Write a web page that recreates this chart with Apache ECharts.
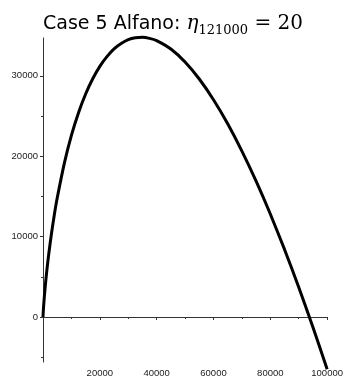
<!DOCTYPE html>
<html><head><meta charset="utf-8">
<script src="https://cdn.jsdelivr.net/npm/echarts@6/dist/echarts.min.js"></script>
<style>html,body{margin:0;padding:0;background:#fff}#c{width:346px;height:378px}</style>
</head><body><div id="c"></div>
<script>
const xValues = [0, 20, 50, 100, 250, 500, 1000, 1500, 2000, 3000, 4000, 5000, 7500, 10000, 12500, 15000, 17500, 20000, 22500, 25000, 27500, 30000, 32500, 35000, 37500, 40000, 45000, 50000, 55000, 60000, 65000, 70000, 75000, 80000, 85000, 90000, 95000, 100000];
const yValues = [0, 171, 381, 690, 1495, 2641, 4582, 6258, 7764, 10419, 12746, 14789, 19113, 22582, 25413, 27736, 29628, 31176, 32377, 33341, 34004, 34491, 34737, 34794, 34658, 34378, 33327, 31713, 29597, 27019, 24024, 20631, 16887, 12803, 8404, 3707, -1269, -6512];
const xTicks = [20000, 40000, 60000, 80000, 100000];
const yMajor = [0, 10000, 20000, 30000];
const yMinor = [-5000, 5000, 15000, 25000];

const chart = echarts.init(document.getElementById('c'), null, {renderer: 'canvas'});
const axisCol = '#333';
const lblFont = {color: '#222', fontFamily: 'Liberation Sans', fontSize: 9.5};
chart.setOption({
  animation: false,
  title: {
    text: '{a|Case 5 Alfano: }{e|η}{s|121000}{m| = 20}',
    left: 'center', top: 6,
    textStyle: {
      fontWeight: 'normal',
      rich: {
        a: {fontFamily: 'DejaVu Sans', fontWeight: 'normal', fontSize: 19, color: '#000', lineHeight: 26},
        e: {fontFamily: 'DejaVu Serif', fontWeight: 'normal', fontStyle: 'italic', fontSize: 20, color: '#000', lineHeight: 26},
        s: {fontFamily: 'DejaVu Serif', fontWeight: 'normal', fontSize: 13, color: '#000', lineHeight: 26, verticalAlign: 'bottom', padding: [6, 0, 0, 0]},
        m: {fontFamily: 'DejaVu Serif', fontWeight: 'normal', fontSize: 20, color: '#000', lineHeight: 26}
      }
    }
  },
  grid: {left: 43, width: 288, top: 38, height: 340, containLabel: false},
  xAxis: {
    type: 'value', min: 0, max: 100000, interval: 20000,
    axisLine: {onZero: true, lineStyle: {color: axisCol, width: 1}},
    axisTick: {show: true, length: 3, lineStyle: {color: axisCol}},
    minorTick: {show: true, splitNumber: 2, length: 2, lineStyle: {color: axisCol}},
    splitLine: {show: false},
    axisLabel: Object.assign({customValues: xTicks, margin: 6, formatter: v => String(v)}, lblFont)
  },
  yAxis: [{
    type: 'value', min: -5600, max: 34700,
    axisLine: {show: true, lineStyle: {color: axisCol, width: 1}},
    axisTick: {show: true, length: 3, customValues: yMajor, lineStyle: {color: axisCol}},
    splitLine: {show: false},
    axisLabel: Object.assign({customValues: yMajor, margin: 5, formatter: v => String(v)}, lblFont)
  }, {
    type: 'value', min: -5600, max: 34700, position: 'left',
    axisLine: {show: false},
    axisTick: {show: true, length: 2, customValues: yMinor, lineStyle: {color: axisCol}},
    splitLine: {show: false},
    axisLabel: {show: false}
  }],
  series: [{
    type: 'line', yAxisIndex: 0,
    data: xValues.map((x, i) => [x, yValues[i]]),
    smooth: 0.2, showSymbol: false, clip: false,
    lineStyle: {color: '#000', width: 3}
  }]
});
</script></body></html>
